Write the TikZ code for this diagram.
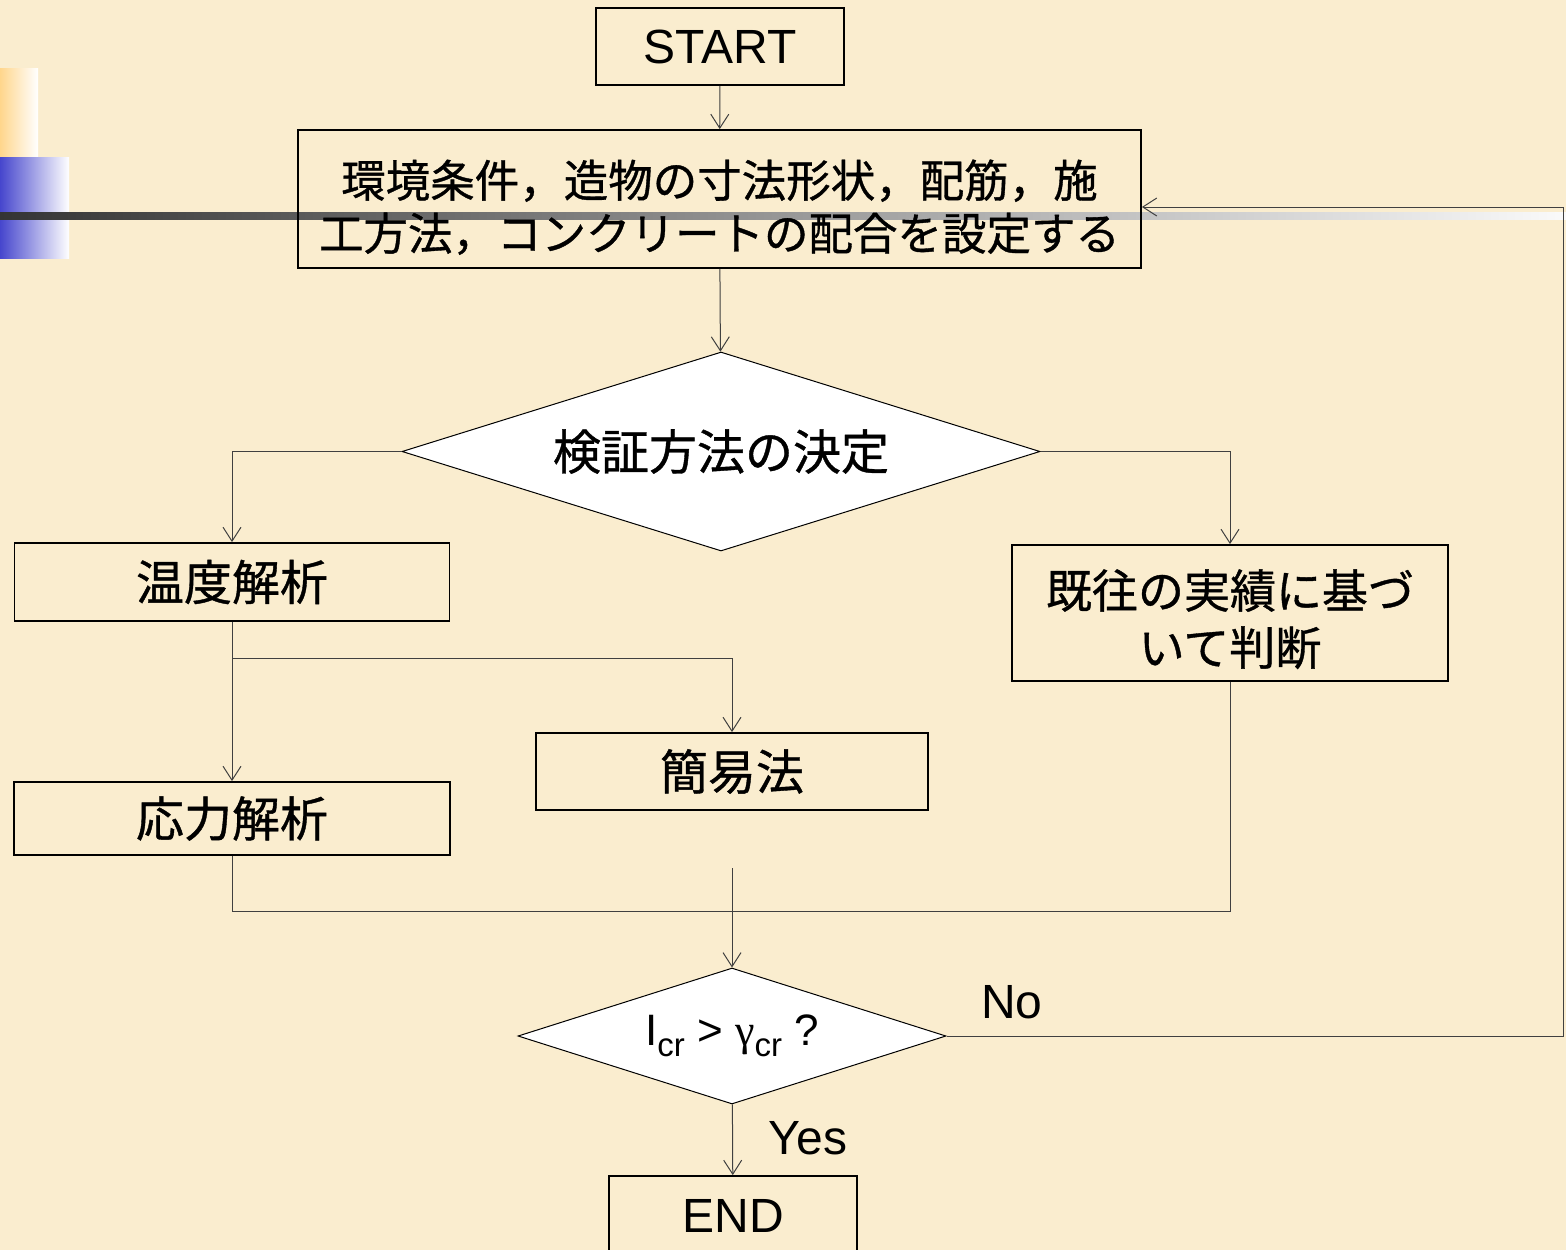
\documentclass[tikz,border=0pt]{standalone}
\usepackage{fontspec}
\setmainfont{Liberation Sans}
\newfontfamily\jpfont[FakeBold=0.8]{Noto Sans CJK JP}
\newfontfamily\greekfont{Liberation Serif}
\usetikzlibrary{arrows.meta,shapes.geometric}

\definecolor{paper}{RGB}{250,237,207}
\definecolor{tabgold}{RGB}{255,214,140}
\definecolor{tabblue}{RGB}{70,70,205}
\definecolor{bardark}{RGB}{52,52,52}
\definecolor{barlight}{RGB}{250,250,250}

% lowered index, as in I_cr
\newcommand{\lowidx}[1]{\raisebox{-11pt}{\fontsize{33}{33}\selectfont #1}}

\tikzset{
  flowbox/.style={draw, line width=1.8pt, inner sep=0pt, align=center,
    font=\jpfont\fontsize{48}{56}\selectfont},
  decision/.style={diamond, draw, fill=white, line width=1pt, inner sep=0pt,
    font=\jpfont\fontsize{48}{56}\selectfont},
  conn/.style={draw=black!75, line width=1pt},
  arr/.style={conn, -{Straight Barb[length=14pt,width=18pt]}},
  tag/.style={font=\fontsize{48}{56}\selectfont},
}

\begin{document}
\begin{tikzpicture}[x=1pt,y=-1pt]
  \useasboundingbox (0,0) rectangle (1566,1250);
  \clip (0,0) rectangle (1566,1250);
  \fill[paper] (0,0) rectangle (1566,1250);
  % slide decoration on the left
  \shade[left color=tabgold, right color=white] (0,68) rectangle (38,157);
  \shade[left color=tabblue, right color=white] (0,157) rectangle (69,258);
  % grey rule across the slide
  \shade[left color=bardark, right color=barlight] (0,212) rectangle (1566,219);

  \node[flowbox, minimum width=248, minimum height=77,
    font=\fontsize{48}{56}\selectfont] (start) at (720,46.5) {START};
  \node[flowbox, minimum width=843, minimum height=138,
    font=\jpfont\fontsize{44.5}{53}\selectfont] (env) at (719.5,199)
    {\rule{0pt}{54pt}環境条件，造物の寸法形状，配筋，施\\工方法，コンクリートの配合を設定する};
  \node[decision, aspect=3.2, minimum width=638, minimum height=199] (dec)
    at (721,451.5) {検証方法の決定};
  \node[flowbox, minimum width=435, minimum height=78] (temp) at (232,582) {温度解析};
  \node[flowbox, minimum width=436, minimum height=136,
    font=\jpfont\fontsize{46}{57}\selectfont] (past) at (1230,613)
    {\rule{0pt}{51pt}既往の実績に基づ\\いて判断};
  \node[flowbox, minimum width=392, minimum height=77] (simple) at (732,771.5) {簡易法};
  \node[flowbox, minimum width=436, minimum height=73] (stress) at (232,818.5) {応力解析};
  \node[decision, aspect=3.15, minimum width=428, minimum height=136,
    font=\fontsize{44}{54}\selectfont] (check) at (732,1036)
    {I\lowidx{cr} > {\greekfont γ}\lowidx{cr} ?};
  \node[flowbox, minimum width=248, minimum height=80,
    font=\fontsize{48}{56}\selectfont] (finish) at (733,1216) {END};
  \node[tag] (nolabel) at (1012,1002) {No};
  \node[tag] (yeslabel) at (808,1138) {Yes};

  \coordinate (split) at (232,658);
  \coordinate (join) at (732,911);
  \coordinate (tail) at (732,868);
  \coordinate (loop) at (1563,1036);

  \draw[arr] (start) -- (env);
  \draw[arr] (env) -- (dec);
  \draw[arr] (dec.west) -| (temp.north);
  \draw[arr] (dec.east) -| (past.north);
  \draw[arr] (temp) -- (stress);
  \draw[arr] (split) -| (simple.north);
  \draw[conn] (stress.south) |- (join);
  \draw[conn] (past.south) |- (join);
  \draw[arr] (tail) -- (check.north);
  \draw[arr] (check) -- (finish);
  \draw[arr] (check.east) -- (loop) |- ([yshift=-8pt]env.east);
\end{tikzpicture}
\end{document}
